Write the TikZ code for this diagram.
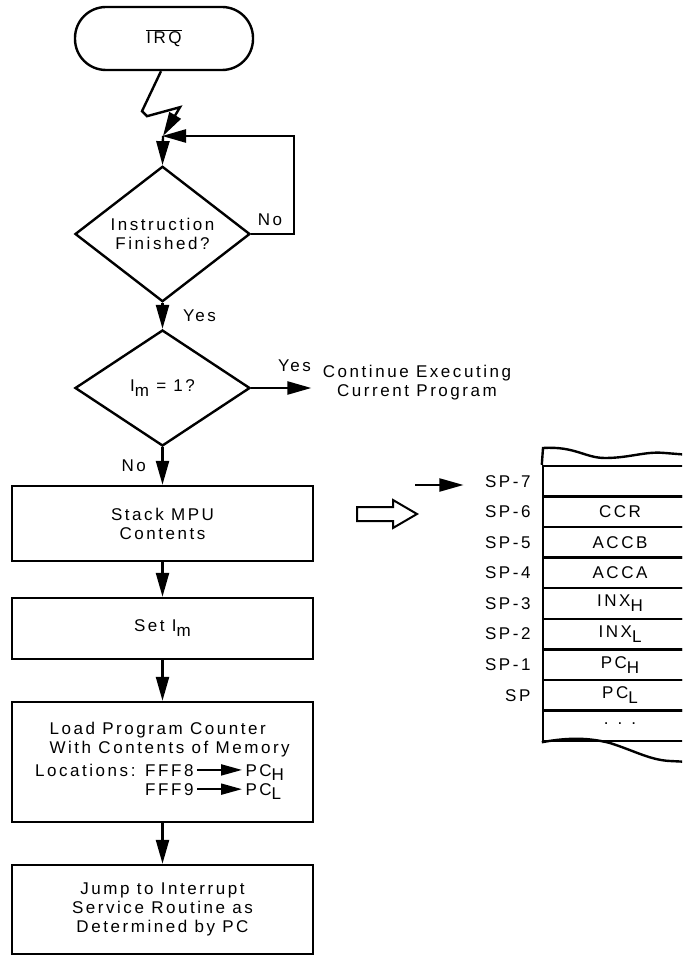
\documentclass[tikz,border=0pt]{standalone}
\usepackage{fontspec}
\setmainfont{Liberation Sans}[LetterSpace=15]
\usetikzlibrary{shapes.geometric, arrows.meta, positioning, calc}

\newcommand{\subl}[1]{\raisebox{-0.55ex}{#1}}

\begin{document}
\begin{tikzpicture}[x=1pt, y=-1pt, font=\fontsize{17}{19}\selectfont,
    line/.style={line width=2.4pt},
    flow/.style={line, -{Triangle[length=24pt, width=13pt]}},
    small/.style={line width=2pt, -{Triangle[length=21pt, width=11pt]}},
    box/.style={draw, line, rectangle, minimum width=301pt, inner sep=0pt, align=center},
    test/.style={draw, line, diamond, minimum width=175pt, inner sep=0pt, align=center},
    cell/.style={draw, line, rectangle, minimum width=154pt, minimum height=30.56pt, inner sep=0pt}]
    \useasboundingbox (0,0) rectangle (682,957);
    \clip (0,0) rectangle (682,957);

    % Start - interrupt request
    \node[draw, line, rounded corners=31pt, minimum width=178pt, minimum height=63pt] (irq) at (164,38.5) {$\overline{\mbox{IRQ}}$};
    \coordinate (join) at (163,136);
    \draw[flow] (irq.south -| 161,0) -- ++(-19,40) -- ++(5,5) -- ++(33,-9) -- (join);

    % Wait for instruction
    \node[test, minimum height=115pt] (done) at (162.5,234) {Instruction\\Finished?};
    \draw[flow] (join) -- (done.north);
    \draw[flow, shorten >=-1pt] (done.east) -- (294,234) |- (join);
    \node (nowait) at (270,220) {No};

    % Mask test
    \node[test, minimum height=116pt] (mask) at (162.5,388) {I\subl{m} = 1?};
    \draw[flow] (done.south) -- node[right=16pt] (yesdone) {Yes} (mask.north);
    \node[align=center] (cont) at (417,383) {Continue Executing\\Current Program};
    \draw[flow] (mask.east) -- node[pos=0.72, above=12pt] (yesmask) {Yes} ([xshift=-8pt]mask.east -| cont.west);

    % Boxes
    \node[box, minimum height=75pt] (stack) at (162.5,523.5) {Stack MPU\\Contents};
    \node[box, minimum height=61pt] (setm) at (162.5,628.5) {Set I\subl{m}};
    \node[box, minimum height=120pt] (load) at (162.5,762) {};
    \node[box, minimum height=89pt] (jump) at (162.5,909.5) {Jump to Interrupt\\Service Routine as\\Determined by PC};
    \draw[flow] (mask.south) -- node[left=12pt] (nomask) {No} (stack.north);
    \draw[flow] (stack.south) -- (setm.north);
    \draw[flow] (setm.south) -- (load.north);
    \draw[flow] (load.south) -- (jump.north);

    % Text of the load box
    \node[anchor=west, align=left] (loadtxt) at (46,740) {Load Program Counter\\With Contents of Memory};
    \node[anchor=base east] (fff8) at (197,776) {Locations: FFF8};
    \node[anchor=base west] (pch) at (242,776) {PC\subl{H}};
    \node[anchor=base east] (fff9) at (197,795) {FFF9};
    \node[anchor=base west] (pcl) at (242,795) {PC\subl{L}};
    \draw[small] (fff8.east) -- (fff8.east -| pch.west);
    \draw[small] (fff9.east) -- (fff9.east -| pcl.west);

    % Hollow arrow to the stack
    \draw[line width=2pt] (357,507) -- (393,507) -- (393,500) -- (417,514) -- (393,528) -- (393,521) -- (357,521) -- cycle;

    % Stack in memory
    \foreach \val [count=\i from 0] in {{}, CCR, ACCB, ACCA, INX\subl{H}, INX\subl{L}, PC\subl{H}, PC\subl{L}, {\raisebox{0.4ex}{.\hspace{9pt}.\hspace{9pt}.}}}
        \node[cell] (cell\i) at (620, {481.28+30.56*\i}) {\val};
    \foreach \lab [count=\i from 0] in {SP-7, SP-6, SP-5, SP-4, SP-3, SP-2, SP-1, SP}
        \node[anchor=east] (sp\i) at (534, {481.28+30.56*\i}) {\lab};
    \draw[line] (cell0.north west) -- (543,448) .. controls (575,446) and (585,458) .. (605,458) .. controls (630,458) and (645,451) .. (665,453) -- (690,455);
    \draw[line] (cell8.south west) .. controls (570,737) and (590,738) .. (610,743) .. controls (635,751) and (650,760) .. (670,761) -- (690,762);

    % Stack pointer
    \coordinate (sptail) at (415,485);
    \draw[flow, line width=2pt, shorten >=18pt] (sptail) -- (sptail -| sp0.west);
\end{tikzpicture}
\end{document}
